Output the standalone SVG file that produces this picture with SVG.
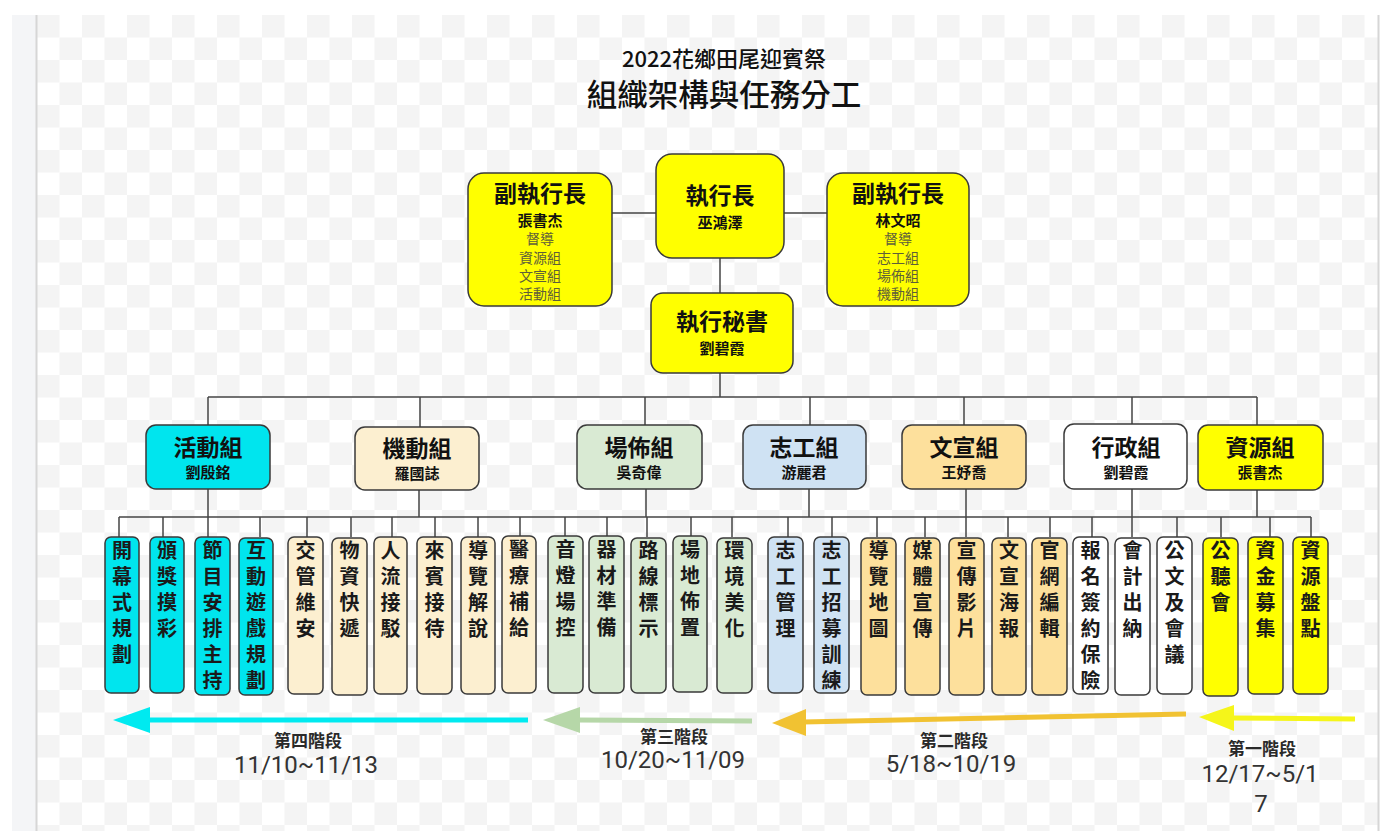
<svg xmlns="http://www.w3.org/2000/svg" width="1385" height="831" viewBox="0 0 1385 831">
<defs>
<pattern id="chk" x="37" y="15" width="45" height="45" patternUnits="userSpaceOnUse">
<rect width="45" height="45" fill="#ffffff"/>
<rect width="22.5" height="22.5" fill="#f4f4f4"/>
<rect x="22.5" y="22.5" width="22.5" height="22.5" fill="#f4f4f4"/>
</pattern>
<style>
text{font-family:"Noto Sans CJK TC","Noto Sans CJK SC",sans-serif;fill:#111;text-anchor:middle}
.box{stroke:#3a3a3a;stroke-width:1.5}
.yel{fill:#ffff00}
.t1{font-size:23px;font-weight:700}
.nm{font-size:15px;font-weight:700}
.sub{font-size:14px;font-weight:400;fill:#5e5e3a}
.lf{font-size:20px;font-weight:700;fill:#1a1a1a}
.conn line{stroke:#444;stroke-width:1.5}
.st{font-size:17px;font-weight:700;fill:#2a2a2a}
.dt{font-family:Roboto,"Liberation Sans",sans-serif;font-size:24px;fill:#333}
</style>
</defs>
<rect width="1385" height="831" fill="#ffffff"/>
<rect x="12" y="15" width="24" height="816" fill="#f4f5f7"/>
<rect x="37" y="15" width="1341" height="816" fill="url(#chk)"/>
<line x1="36.5" y1="15" x2="36.5" y2="831" stroke="#d6d6d6" stroke-width="2"/>
<line x1="1378.5" y1="15" x2="1378.5" y2="831" stroke="#d6d6d6" stroke-width="2"/>

<g id="title">
<text x="724" y="67" style="font-size:22px;font-weight:500">2022花鄉田尾迎賓祭</text>
<text x="724" y="106" style="font-size:30.5px;font-weight:500">組織架構與任務分工</text>
</g>

<g class="conn" id="connectors">
<line x1="612" y1="213" x2="656" y2="213"/>
<line x1="784" y1="213" x2="827" y2="213"/>
<line x1="720" y1="258" x2="720" y2="293"/>
<line x1="720" y1="373" x2="720" y2="397"/>
<line x1="208" y1="397" x2="1257" y2="397"/>
<line x1="208" y1="397" x2="208" y2="425"/>
<line x1="420" y1="397" x2="420" y2="427"/>
<line x1="645" y1="397" x2="645" y2="425"/>
<line x1="810" y1="397" x2="810" y2="425"/>
<line x1="964" y1="397" x2="964" y2="425"/>
<line x1="1132" y1="397" x2="1132" y2="424"/>
<line x1="1257" y1="397" x2="1257" y2="425"/>
<line x1="208" y1="489" x2="208" y2="517"/>
<line x1="419" y1="490" x2="419" y2="517"/>
<line x1="646" y1="489" x2="646" y2="517"/>
<line x1="809" y1="489" x2="809" y2="517"/>
<line x1="966" y1="489" x2="966" y2="517"/>
<line x1="1132" y1="489" x2="1132" y2="517"/>
<line x1="1257" y1="490" x2="1257" y2="517"/>
<line x1="119" y1="517" x2="1311" y2="517"/>
<line x1="119" y1="517" x2="119" y2="537"/>
<line x1="163" y1="517" x2="163" y2="537"/>
<line x1="208" y1="517" x2="208" y2="537"/>
<line x1="260" y1="517" x2="260" y2="537"/>
<line x1="307" y1="517" x2="307" y2="537"/>
<line x1="351" y1="517" x2="351" y2="537"/>
<line x1="392" y1="517" x2="392" y2="537"/>
<line x1="435" y1="517" x2="435" y2="537"/>
<line x1="478" y1="517" x2="478" y2="537"/>
<line x1="520" y1="517" x2="520" y2="537"/>
<line x1="565" y1="517" x2="565" y2="537"/>
<line x1="607" y1="517" x2="607" y2="537"/>
<line x1="647" y1="517" x2="647" y2="537"/>
<line x1="691" y1="517" x2="691" y2="537"/>
<line x1="732" y1="517" x2="732" y2="537"/>
<line x1="788" y1="517" x2="788" y2="537"/>
<line x1="832" y1="517" x2="832" y2="537"/>
<line x1="877" y1="517" x2="877" y2="537"/>
<line x1="925" y1="517" x2="925" y2="537"/>
<line x1="966" y1="517" x2="966" y2="537"/>
<line x1="1008" y1="517" x2="1008" y2="537"/>
<line x1="1050" y1="517" x2="1050" y2="537"/>
<line x1="1092" y1="517" x2="1092" y2="537"/>
<line x1="1132" y1="517" x2="1132" y2="537"/>
<line x1="1177" y1="517" x2="1177" y2="537"/>
<line x1="1221" y1="517" x2="1221" y2="537"/>
<line x1="1270" y1="517" x2="1270" y2="537"/>
<line x1="1311" y1="517" x2="1311" y2="537"/>
</g>

<g id="n-ceo">
<rect class="box yel" x="656" y="154" width="128" height="104" rx="16"/>
<text class="t1" x="720" y="204">執行長</text>
<text class="nm" x="720" y="228">巫鴻澤</text>
</g>
<g id="n-vice1">
<rect class="box yel" x="468" y="173" width="144" height="133" rx="16"/>
<text class="t1" x="540" y="202">副執行長</text>
<text class="nm" x="540" y="226">張書杰</text>
<text class="sub" x="540" y="244">督導</text>
<text class="sub" x="540" y="263">資源組</text>
<text class="sub" x="540" y="281">文宣組</text>
<text class="sub" x="540" y="299">活動組</text>
</g>
<g id="n-vice2">
<rect class="box yel" x="827" y="173" width="142" height="133" rx="16"/>
<text class="t1" x="898" y="202">副執行長</text>
<text class="nm" x="898" y="226">林文昭</text>
<text class="sub" x="898" y="244">督導</text>
<text class="sub" x="898" y="263">志工組</text>
<text class="sub" x="898" y="281">場佈組</text>
<text class="sub" x="898" y="299">機動組</text>
</g>
<g id="n-sec">
<rect class="box yel" x="651" y="293" width="142" height="80" rx="12"/>
<text class="t1" x="722" y="330">執行秘書</text>
<text class="nm" x="722" y="354">劉碧霞</text>
</g>

<g id="g-activity">
<rect class="box" x="146" y="425" width="124" height="64" rx="10" fill="#00e5ee"/>
<text class="t1" x="208" y="456">活動組</text>
<text class="nm" x="208" y="478">劉殷銘</text>
</g>
<g id="g-mobile">
<rect class="box" x="355" y="427" width="124" height="63" rx="10" fill="#fcefd0"/>
<text class="t1" x="417" y="457">機動組</text>
<text class="nm" x="417" y="479">羅國誌</text>
</g>
<g id="g-venue">
<rect class="box" x="577" y="425" width="125" height="64" rx="10" fill="#d9ead3"/>
<text class="t1" x="639" y="456">場佈組</text>
<text class="nm" x="639" y="478">吳奇偉</text>
</g>
<g id="g-volunteer">
<rect class="box" x="743" y="425" width="123" height="64" rx="10" fill="#cfe2f3"/>
<text class="t1" x="804" y="456">志工組</text>
<text class="nm" x="804" y="478">游麗君</text>
</g>
<g id="g-publicity">
<rect class="box" x="902" y="425" width="124" height="64" rx="10" fill="#fde09c"/>
<text class="t1" x="964" y="456">文宣組</text>
<text class="nm" x="964" y="478">王妤喬</text>
</g>
<g id="g-admin">
<rect class="box" x="1064" y="424" width="123" height="65" rx="10" fill="#ffffff"/>
<text class="t1" x="1126" y="456">行政組</text>
<text class="nm" x="1126" y="478">劉碧霞</text>
</g>
<g id="g-resource">
<rect class="box yel" x="1198" y="425" width="125" height="65" rx="10"/>
<text class="t1" x="1260" y="456">資源組</text>
<text class="nm" x="1260" y="478">張書杰</text>
</g>

<g id="leaves">
<g id="l1"><rect class="box" x="105" y="537" width="34" height="156" rx="6" fill="#00e5ee"/><text class="lf"><tspan x="122" y="558">開</tspan><tspan x="122" y="584">幕</tspan><tspan x="122" y="610">式</tspan><tspan x="122" y="636">規</tspan><tspan x="122" y="662">劃</tspan></text></g>
<g id="l2"><rect class="box" x="150" y="537" width="34" height="156" rx="6" fill="#00e5ee"/><text class="lf"><tspan x="167" y="558">頒</tspan><tspan x="167" y="584">獎</tspan><tspan x="167" y="610">摸</tspan><tspan x="167" y="636">彩</tspan></text></g>
<g id="l3"><rect class="box" x="195" y="537" width="35" height="158" rx="6" fill="#00e5ee"/><text class="lf"><tspan x="212.5" y="558">節</tspan><tspan x="212.5" y="584">目</tspan><tspan x="212.5" y="610">安</tspan><tspan x="212.5" y="636">排</tspan><tspan x="212.5" y="662">主</tspan><tspan x="212.5" y="688">持</tspan></text></g>
<g id="l4"><rect class="box" x="239" y="538" width="34" height="157" rx="6" fill="#00e5ee"/><text class="lf"><tspan x="256" y="558">互</tspan><tspan x="256" y="584">動</tspan><tspan x="256" y="610">遊</tspan><tspan x="256" y="636">戲</tspan><tspan x="256" y="662">規</tspan><tspan x="256" y="688">劃</tspan></text></g>
<g id="l5"><rect class="box" x="288" y="537" width="35" height="157" rx="6" fill="#fcefd0"/><text class="lf"><tspan x="305.5" y="558">交</tspan><tspan x="305.5" y="584">管</tspan><tspan x="305.5" y="610">維</tspan><tspan x="305.5" y="636">安</tspan></text></g>
<g id="l6"><rect class="box" x="332" y="538" width="35" height="157" rx="6" fill="#fcefd0"/><text class="lf"><tspan x="349.5" y="558">物</tspan><tspan x="349.5" y="584">資</tspan><tspan x="349.5" y="610">快</tspan><tspan x="349.5" y="636">遞</tspan></text></g>
<g id="l7"><rect class="box" x="374" y="537" width="33" height="157" rx="6" fill="#fcefd0"/><text class="lf"><tspan x="390.5" y="558">人</tspan><tspan x="390.5" y="584">流</tspan><tspan x="390.5" y="610">接</tspan><tspan x="390.5" y="636">駁</tspan></text></g>
<g id="l8"><rect class="box" x="417" y="537" width="35" height="157" rx="6" fill="#fcefd0"/><text class="lf"><tspan x="434.5" y="558">來</tspan><tspan x="434.5" y="584">賓</tspan><tspan x="434.5" y="610">接</tspan><tspan x="434.5" y="636">待</tspan></text></g>
<g id="l9"><rect class="box" x="461" y="537" width="34" height="157" rx="6" fill="#fcefd0"/><text class="lf"><tspan x="478" y="558">導</tspan><tspan x="478" y="584">覽</tspan><tspan x="478" y="610">解</tspan><tspan x="478" y="636">說</tspan></text></g>
<g id="l10"><rect class="box" x="502" y="536" width="34" height="157" rx="6" fill="#fcefd0"/><text class="lf"><tspan x="519" y="557">醫</tspan><tspan x="519" y="583">療</tspan><tspan x="519" y="609">補</tspan><tspan x="519" y="635">給</tspan></text></g>
<g id="l11"><rect class="box" x="548" y="536" width="35" height="157" rx="6" fill="#d9ead3"/><text class="lf"><tspan x="565.5" y="557">音</tspan><tspan x="565.5" y="583">燈</tspan><tspan x="565.5" y="609">場</tspan><tspan x="565.5" y="635">控</tspan></text></g>
<g id="l12"><rect class="box" x="589" y="536" width="35" height="157" rx="6" fill="#d9ead3"/><text class="lf"><tspan x="606.5" y="557">器</tspan><tspan x="606.5" y="583">材</tspan><tspan x="606.5" y="609">準</tspan><tspan x="606.5" y="635">備</tspan></text></g>
<g id="l13"><rect class="box" x="631" y="538" width="35" height="155" rx="6" fill="#d9ead3"/><text class="lf"><tspan x="648.5" y="558">路</tspan><tspan x="648.5" y="584">線</tspan><tspan x="648.5" y="610">標</tspan><tspan x="648.5" y="636">示</tspan></text></g>
<g id="l14"><rect class="box" x="673" y="536" width="34" height="156" rx="6" fill="#d9ead3"/><text class="lf"><tspan x="690" y="557">場</tspan><tspan x="690" y="583">地</tspan><tspan x="690" y="609">佈</tspan><tspan x="690" y="635">置</tspan></text></g>
<g id="l15"><rect class="box" x="717" y="538" width="35" height="155" rx="6" fill="#d9ead3"/><text class="lf"><tspan x="734.5" y="558">環</tspan><tspan x="734.5" y="584">境</tspan><tspan x="734.5" y="610">美</tspan><tspan x="734.5" y="636">化</tspan></text></g>
<g id="l16"><rect class="box" x="768" y="537" width="35" height="156" rx="6" fill="#cfe2f3"/><text class="lf"><tspan x="785.5" y="558">志</tspan><tspan x="785.5" y="584">工</tspan><tspan x="785.5" y="610">管</tspan><tspan x="785.5" y="636">理</tspan></text></g>
<g id="l17"><rect class="box" x="814" y="537" width="35" height="156" rx="6" fill="#cfe2f3"/><text class="lf"><tspan x="831.5" y="558">志</tspan><tspan x="831.5" y="584">工</tspan><tspan x="831.5" y="610">招</tspan><tspan x="831.5" y="636">募</tspan><tspan x="831.5" y="662">訓</tspan><tspan x="831.5" y="688">練</tspan></text></g>
<g id="l18"><rect class="box" x="861" y="538" width="35" height="157" rx="6" fill="#fde09c"/><text class="lf"><tspan x="878.5" y="558">導</tspan><tspan x="878.5" y="584">覽</tspan><tspan x="878.5" y="610">地</tspan><tspan x="878.5" y="636">圖</tspan></text></g>
<g id="l19"><rect class="box" x="905" y="538" width="35" height="157" rx="6" fill="#fde09c"/><text class="lf"><tspan x="922.5" y="558">媒</tspan><tspan x="922.5" y="584">體</tspan><tspan x="922.5" y="610">宣</tspan><tspan x="922.5" y="636">傳</tspan></text></g>
<g id="l20"><rect class="box" x="949" y="538" width="35" height="157" rx="6" fill="#fde09c"/><text class="lf"><tspan x="966.5" y="558">宣</tspan><tspan x="966.5" y="584">傳</tspan><tspan x="966.5" y="610">影</tspan><tspan x="966.5" y="636">片</tspan></text></g>
<g id="l21"><rect class="box" x="992" y="538" width="34" height="157" rx="6" fill="#fde09c"/><text class="lf"><tspan x="1009" y="558">文</tspan><tspan x="1009" y="584">宣</tspan><tspan x="1009" y="610">海</tspan><tspan x="1009" y="636">報</tspan></text></g>
<g id="l22"><rect class="box" x="1032" y="538" width="35" height="157" rx="6" fill="#fde09c"/><text class="lf"><tspan x="1049.5" y="558">官</tspan><tspan x="1049.5" y="584">網</tspan><tspan x="1049.5" y="610">編</tspan><tspan x="1049.5" y="636">輯</tspan></text></g>
<g id="l23"><rect class="box" x="1073" y="537" width="35" height="157" rx="6" fill="#ffffff"/><text class="lf"><tspan x="1090.5" y="558">報</tspan><tspan x="1090.5" y="584">名</tspan><tspan x="1090.5" y="610">簽</tspan><tspan x="1090.5" y="636">約</tspan><tspan x="1090.5" y="662">保</tspan><tspan x="1090.5" y="688">險</tspan></text></g>
<g id="l24"><rect class="box" x="1115" y="538" width="35" height="157" rx="6" fill="#ffffff"/><text class="lf"><tspan x="1132.5" y="558">會</tspan><tspan x="1132.5" y="584">計</tspan><tspan x="1132.5" y="610">出</tspan><tspan x="1132.5" y="636">納</tspan></text></g>
<g id="l25"><rect class="box" x="1157" y="537" width="35" height="157" rx="6" fill="#ffffff"/><text class="lf"><tspan x="1174.5" y="558">公</tspan><tspan x="1174.5" y="584">文</tspan><tspan x="1174.5" y="610">及</tspan><tspan x="1174.5" y="636">會</tspan><tspan x="1174.5" y="662">議</tspan></text></g>
<g id="l26"><rect class="box yel" x="1203" y="538" width="35" height="158" rx="6"/><text class="lf"><tspan x="1220.5" y="558">公</tspan><tspan x="1220.5" y="584">聽</tspan><tspan x="1220.5" y="610">會</tspan></text></g>
<g id="l27"><rect class="box yel" x="1248" y="537" width="35" height="157" rx="6"/><text class="lf"><tspan x="1265.5" y="558">資</tspan><tspan x="1265.5" y="584">金</tspan><tspan x="1265.5" y="610">募</tspan><tspan x="1265.5" y="636">集</tspan></text></g>
<g id="l28"><rect class="box yel" x="1293" y="537" width="35" height="157" rx="6"/><text class="lf"><tspan x="1310.5" y="558">資</tspan><tspan x="1310.5" y="584">源</tspan><tspan x="1310.5" y="610">盤</tspan><tspan x="1310.5" y="636">點</tspan></text></g>
</g>

<g id="phases">
<line x1="146" y1="720" x2="528" y2="720" stroke="#00eaf0" stroke-width="5"/>
<polygon points="113,720 150,707 150,733" fill="#00eaf0"/>
<line x1="578" y1="720" x2="752" y2="721" stroke="#b6d7a8" stroke-width="5"/>
<polygon points="543,720 580,707 580,733" fill="#b6d7a8"/>
<line x1="803" y1="722" x2="1186" y2="714" stroke="#f1c232" stroke-width="5"/>
<polygon points="772,723 806,709 806,736" fill="#f1c232"/>
<line x1="1231" y1="718" x2="1355" y2="719" stroke="#f5f51a" stroke-width="5"/>
<polygon points="1199,717 1234,705 1234,731" fill="#f5f51a"/>
<text class="st" x="308" y="747">第四階段</text>
<text class="dt" x="306" y="773">11/10~11/13</text>
<text class="st" x="674" y="743">第三階段</text>
<text class="dt" x="673" y="768">10/20~11/09</text>
<text class="st" x="954" y="747">第二階段</text>
<text class="dt" x="951" y="772">5/18~10/19</text>
<text class="st" x="1262" y="755">第一階段</text>
<text class="dt" x="1260" y="782">12/17~5/1</text>
<text class="dt" x="1261" y="812">7</text>
</g>
</svg>
